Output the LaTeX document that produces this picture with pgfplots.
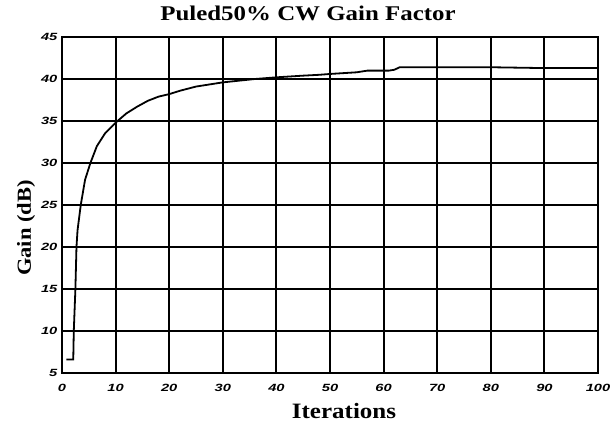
\documentclass[border=0pt]{standalone}
\usepackage{fontspec}
\setmainfont{Liberation Serif}
\newfontfamily\arialfont{Liberation Sans}
\usepackage{pgfplots}
\pgfplotsset{compat=1.18}
\begin{document}
\begin{tikzpicture}[x=1bp,y=1bp]
\path[use as bounding box] (-62,-50) rectangle (550,373);
\begin{axis}[
  at={(0,0)}, anchor=south west,
  scale only axis, width=536bp, height=336bp,
  xmin=0, xmax=100, ymin=5, ymax=45,
  xtick={0,10,...,100}, ytick={5,10,...,45},
  grid=major, major grid style={black, line width=2bp},
  axis line style={black, line width=2.2bp},
  major tick length=0pt,
  /pgf/number format/assume math mode=true,
  ticklabel style={font=\arialfont\bfseries\itshape\fontsize{10.5}{11}\selectfont, inner sep=0pt},
  xticklabel={\scalebox{1.4}[1]{\pgfmathprintnumber{\tick}}},
  yticklabel={\scalebox{1.4}[1]{\pgfmathprintnumber{\tick}}},
  xticklabel style={anchor=north, yshift=-11bp},
  yticklabel style={anchor=east, xshift=-4.5bp},
  title={\scalebox{1.19}[1]{\bfseries\fontsize{21}{24}\selectfont Puled50\% CW Gain Factor}},
  title style={at={([xshift=-22bp,yshift=11bp]axis description cs:0.5,1)}, anchor=base, inner sep=0pt},
  xlabel={\scalebox{1.14}[1]{\bfseries\fontsize{22}{24}\selectfont Iterations}},
  xlabel style={at={([xshift=14bp,yshift=-45bp]axis description cs:0.5,0)}, anchor=base, inner sep=0pt},
  ylabel={\scalebox{1.13}[1]{\bfseries\fontsize{20}{22}\selectfont Gain (dB)}},
  ylabel style={at={([xshift=-31bp,yshift=-23bp]axis description cs:0,0.5)}, anchor=base, rotate=0, inner sep=0pt},
]
\addplot[black, line width=1.8bp] coordinates {
(0.8,6.6) (2.1,6.6) (2.2,10) (2.5,15) (2.7,20) (2.9,22) (3.5,25) (4.3,28) (5.3,30) (6.5,32) (8,33.5) (10,34.8) (12,35.9) (14,36.7) (16,37.4) (18,37.9) (20,38.2) (22,38.6) (25,39.1) (28,39.4) (30,39.6) (33,39.8) (36,40.0) (40,40.2) (45,40.4) (48,40.5) (50,40.6) (55,40.8) (57,41.0) (61,41.0) (62,41.1) (63,41.4) (70,41.4) (80,41.4) (90,41.3) (100,41.3)
};
\end{axis}
\end{tikzpicture}
\end{document}
